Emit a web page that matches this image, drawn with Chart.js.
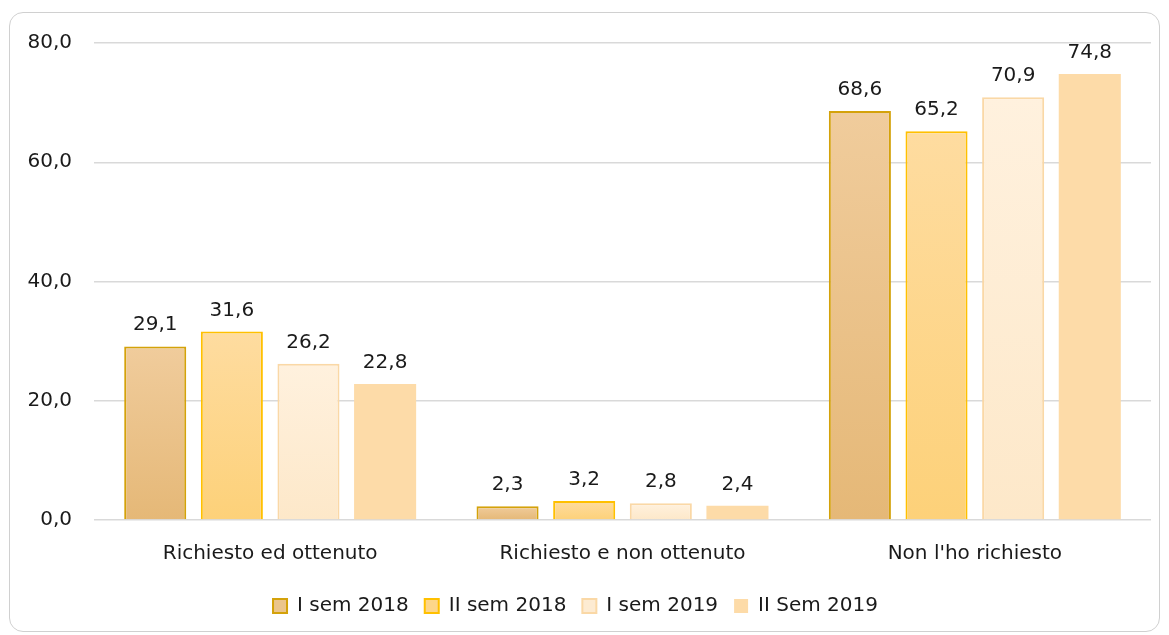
<!DOCTYPE html>
<html>
<head>
<meta charset="utf-8">
<script src="https://cdn.jsdelivr.net/npm/chart.js@4"></script>
<style>
  html, body { margin: 0; padding: 0; background: #fff; }
  #wrap { position: relative; width: 1169px; height: 635px; }
  #frame { position: absolute; left: 9px; top: 12px; width: 1151px; height: 620px;
           border: 1.5px solid #d0d0d0; border-radius: 14px; box-sizing: border-box; }
  canvas { position: absolute; left: 0; top: 0; }
</style>
</head>
<body>
<div id="wrap">
  <div id="frame"></div>
  <canvas id="myChart" width="1169" height="635"></canvas>
</div>
<script>
// categorie
var labels = ["Richiesto ed ottenuto", "Richiesto e non ottenuto", "Non l'ho richiesto"];
// valori per semestre
var sem1_2018 = [29.1, 2.3, 68.6];
var sem2_2018 = [31.6, 3.2, 65.2];
var sem1_2019 = [26.2, 2.8, 70.9];
var sem2_2019 = [22.8, 2.4, 74.8];
var seriesNames = ["I sem 2018", "II sem 2018", "I sem 2019", "II Sem 2019"];
var yTicks = [0, 20, 40, 60, 80];

var FONT = "'DejaVu Sans', sans-serif";

// gradiente verticale per ogni barra (chiaro in alto)
function grad(top, bottom) {
    return function (c) {
        var chart = c.chart;
        if (!chart.chartArea || c.parsed == null) return bottom;
        var y = chart.scales.y;
        var y0 = y.getPixelForValue(c.parsed.y);
        var y1 = y.getPixelForValue(0);
        if (y1 - y0 < 1) return bottom;
        var g = chart.ctx.createLinearGradient(0, y0, 0, y1);
        g.addColorStop(0, top);
        g.addColorStop(1, bottom);
        return g;
    };
}

var legendFill = ["#ebc58c", "#fdd68a", "#fdebd2", "#fddba8"];

// etichette dati sopra le barre
var valueLabels = {
    id: 'valueLabels',
    afterDatasetsDraw: function (chart) {
        var ctx = chart.ctx;
        ctx.save();
        ctx.font = "20px " + FONT;
        ctx.fillStyle = "#1a1a1a";
        ctx.textAlign = "center";
        ctx.textBaseline = "alphabetic";
        chart.data.datasets.forEach(function (ds, i) {
            chart.getDatasetMeta(i).data.forEach(function (bar, j) {
                ctx.fillText(ds.data[j].toFixed(1).replace(".", ","), bar.x, bar.y - 16);
            });
        });
        ctx.restore();
    }
};

var ctx = document.getElementById("myChart");
var myChart = new Chart(ctx, {
    type: 'bar',
    data: {
        labels: labels,
        datasets: [
            {
                label: seriesNames[0],
                data: sem1_2018,
                backgroundColor: grad("#f0cc9c", "#e5b877"),
                borderColor: "#d4a20a",
                borderWidth: 2
            },
            {
                label: seriesNames[1],
                data: sem2_2018,
                backgroundColor: grad("#fedca0", "#fdd179"),
                borderColor: "#ffc000",
                borderWidth: 2
            },
            {
                label: seriesNames[2],
                data: sem1_2019,
                backgroundColor: grad("#fff1de", "#fde8c9"),
                borderColor: "#fad8a6",
                borderWidth: 2
            },
            {
                label: seriesNames[3],
                data: sem2_2019,
                backgroundColor: "#fddba8",
                borderColor: "#fddba8",
                borderWidth: 0
            }
        ]
    },
    options: {
        responsive: false,
        animation: false,
        layout: { padding: { left: 0, right: 18, top: 43, bottom: 9 } },
        datasets: { bar: { categoryPercentage: 0.87, barPercentage: 0.81 } },
        scales: {
            x: {
                grid: { display: false },
                border: { display: false },
                ticks: { color: "#1a1a1a", font: { family: FONT, size: 20 }, padding: 14 }
            },
            y: {
                min: 0,
                max: 80,
                afterFit: function (s) { s.width = 94; },
                afterBuildTicks: function (s) { s.ticks = yTicks.map(function (v) { return { value: v }; }); },
                grid: { color: "#d9d9d9", lineWidth: 1.5, drawTicks: false },
                border: { display: false },
                ticks: {
                    color: "#1a1a1a",
                    font: { family: FONT, size: 20 },
                    padding: 22,
                    callback: function (v) { return v.toFixed(1).replace(".", ","); }
                }
            }
        },
        plugins: {
            legend: {
                position: 'bottom',
                labels: {
                    color: "#1a1a1a",
                    font: { family: FONT, size: 20 },
                    boxWidth: 14,
                    boxHeight: 14,
                    padding: 16,
                    generateLabels: function (chart) {
                        return chart.data.datasets.map(function (ds, i) {
                            return {
                                text: ds.label,
                                fillStyle: legendFill[i],
                                strokeStyle: ds.borderColor,
                                lineWidth: i < 3 ? 2 : 0,
                                fontColor: "#1a1a1a",
                                datasetIndex: i
                            };
                        });
                    }
                }
            },
            tooltip: { enabled: false }
        }
    },
    plugins: [valueLabels]
});
</script>
</body>
</html>
